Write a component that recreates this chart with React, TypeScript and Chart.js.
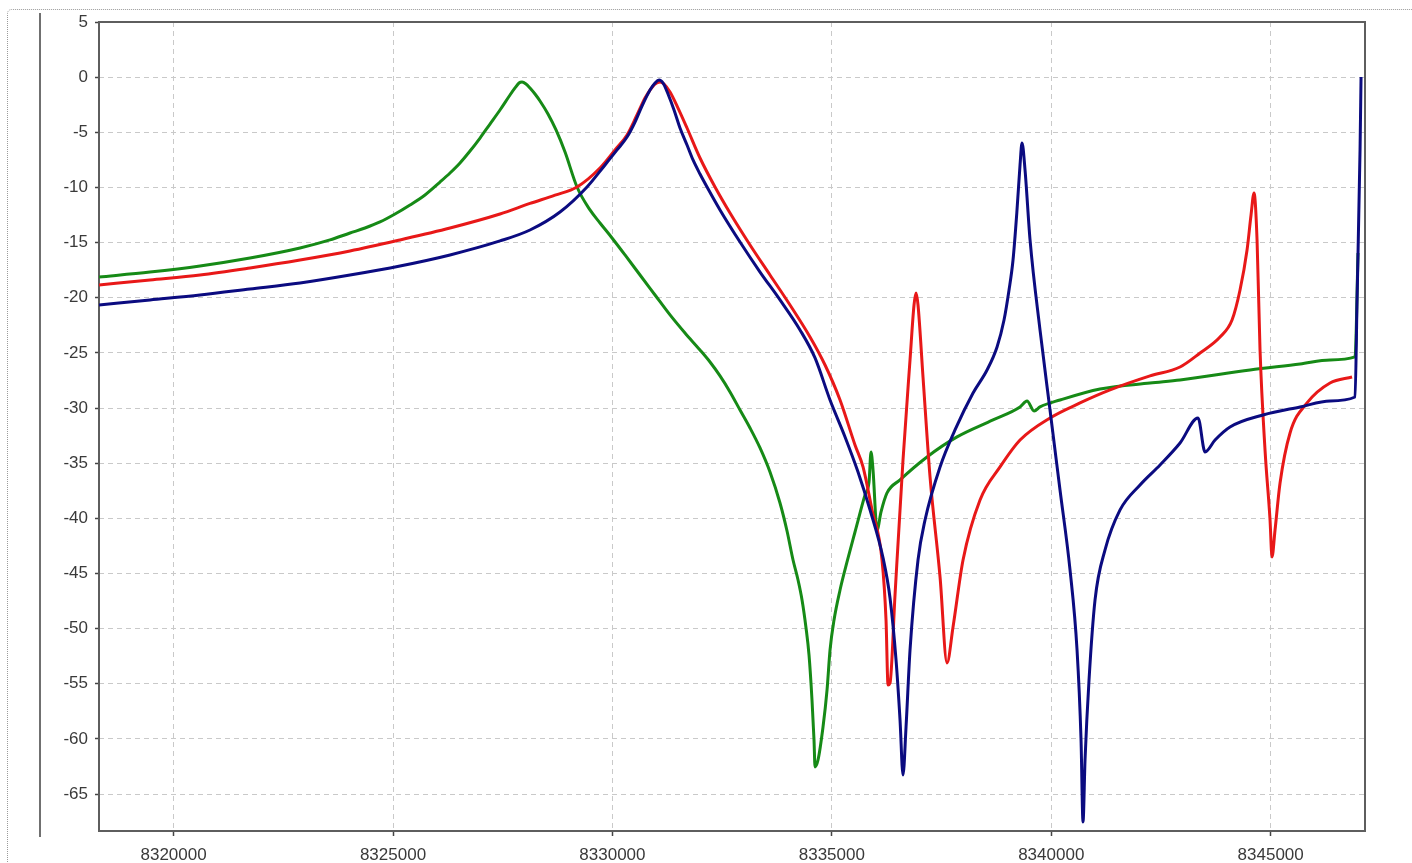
import React, { useEffect, useRef } from "react";
import { Chart, registerables } from "chart.js";

Chart.register(...registerables);

// Axis settings / tick labels
const X_MIN = 8318300;
const X_MAX = 8347150;
const Y_MIN = -68.35;
const Y_MAX = 5;
const xTicks = [8320000, 8325000, 8330000, 8335000, 8340000, 8345000];
const yTicks = [5, 0, -5, -10, -15, -20, -25, -30, -35, -40, -45, -50, -55, -60, -65];

// Navy series
const navyFreq = [
  8318300, 8319462, 8320602, 8321741, 8322881, 8324020, 8325159, 8326299, 8327438, 8328122,
  8328806, 8329421, 8329831, 8330105, 8330333, 8330515, 8330674, 8330857, 8330971, 8331062,
  8331153, 8331267, 8331404, 8331540, 8331700, 8331837, 8331996, 8332156, 8332452, 8332908,
  8333364, 8333819, 8334275, 8334617, 8334959, 8335301, 8335597, 8335870, 8336167, 8336326,
  8336463, 8336554, 8336622, 8336691, 8336782, 8336964, 8337124, 8337466, 8337807, 8338218,
  8338537, 8338765, 8338924, 8339038, 8339129, 8339220, 8339289, 8339334, 8339403, 8339517,
  8339744, 8339972, 8340200, 8340428, 8340588, 8340679, 8340724, 8340770, 8340861, 8340998,
  8341226, 8341568, 8342023, 8342479, 8342935, 8343345, 8343505, 8343733, 8344074, 8344826,
  8345670, 8346353, 8346923, 8346969, 8347037, 8347060,
];
const navyDb = [
  -20.66, -20.2, -19.75, -19.21, -18.66, -17.94, -17.12, -16.12, -14.85, -13.86,
  -12.23, -9.96, -7.96, -6.6, -5.43, -4.07, -2.62, -1.17, -0.53, -0.26,
  -0.53, -1.53, -2.98, -4.61, -6.15, -7.51, -8.78, -9.96, -12.04, -14.95,
  -17.67, -20.2, -22.92, -25.46, -29.27, -32.62, -35.8, -39.24, -43.59, -47.22,
  -52.84, -58.28, -63.27, -58.92, -51.94, -43.78, -40.15, -35.34, -31.99, -28.64,
  -26.55, -24.46, -22.02, -19.3, -16.58, -12.04, -7.96, -5.97, -8.42, -14.76,
  -22.92, -30.18, -37.43, -44.68, -51.94, -60.1, -67.53, -61.91, -54.66, -47.4,
  -42.87, -39.24, -36.98, -35.16, -33.17, -30.9, -33.98, -32.9, -31.72, -30.63,
  -29.9, -29.36, -29.0, -20.2, -6.6, 0.01,
];

// Red series
const redFreq = [
  8318300, 8319462, 8320602, 8321741, 8322881, 8324020, 8325159, 8326299, 8327438, 8328122,
  8328692, 8329193, 8329717, 8330059, 8330333, 8330560, 8330743, 8330857, 8330971, 8331085,
  8331176, 8331313, 8331495, 8331700, 8331996, 8332338, 8332680, 8333136, 8333591, 8334047,
  8334503, 8334845, 8335187, 8335528, 8335711, 8335916, 8336144, 8336235, 8336281, 8336326,
  8336440, 8336622, 8336782, 8336873, 8336919, 8336964, 8337078, 8337238, 8337466, 8337625,
  8337762, 8337990, 8338377, 8338833, 8339289, 8339972, 8340656, 8341340, 8342251, 8342935,
  8343391, 8343846, 8344120, 8344302, 8344462, 8344553, 8344621, 8344690, 8344758, 8344872,
  8344986, 8345031, 8345100, 8345214, 8345442, 8345829, 8346353, 8346855,
];
const redDb = [
  -18.84, -18.39, -17.94, -17.3, -16.58, -15.76, -14.76, -13.68, -12.41, -11.45,
  -10.7, -9.96, -8.24, -6.6, -5.24, -3.43, -1.89, -1.17, -0.62, -0.44,
  -0.62, -1.35, -2.8, -4.61, -7.33, -9.96, -12.32, -15.22, -17.94, -20.66,
  -23.56, -26.1, -29.27, -33.35, -35.34, -39.24, -43.78, -49.22, -55.11, -54.93,
  -46.95, -34.71, -25.64, -20.66, -19.57, -20.66, -27.19, -36.25, -45.32, -53.11,
  -49.85, -43.78, -38.34, -35.34, -32.9, -30.9, -29.54, -28.36, -27.09, -26.28,
  -25.01, -23.56, -22.02, -19.3, -15.67, -12.5, -10.5, -14.76, -24.74, -33.81,
  -40.15, -43.5, -41.06, -36.8, -32.26, -29.54, -27.73, -27.19,
];

// Green series
const greenFreq = [
  8318300, 8319462, 8320602, 8321741, 8322881, 8323564, 8324020, 8324362, 8324704, 8325046,
  8325387, 8325729, 8326071, 8326299, 8326527, 8326755, 8326983, 8327210, 8327438, 8327666,
  8327780, 8327871, 8327940, 8328031, 8328122, 8328236, 8328350, 8328532, 8328715, 8328920,
  8329193, 8329489, 8329717, 8329991, 8330287, 8330629, 8330971, 8331313, 8331654, 8331996,
  8332224, 8332452, 8332680, 8332908, 8333136, 8333364, 8333591, 8333819, 8333979, 8334116,
  8334230, 8334321, 8334412, 8334480, 8334548, 8334594, 8334617, 8334685, 8334799, 8334891,
  8334959, 8335050, 8335187, 8335346, 8335528, 8335756, 8335848, 8335893, 8335939, 8336030,
  8336121, 8336258, 8336554, 8337169, 8337853, 8338673, 8339289, 8339448, 8339608, 8339744,
  8340200, 8341112, 8342251, 8342935, 8344530, 8345670, 8346353, 8346923, 8346991,
];
const greenDb = [
  -18.12, -17.67, -17.12, -16.4, -15.49, -14.76, -14.13, -13.68, -13.13, -12.41,
  -11.59, -10.68, -9.51, -8.69, -7.78, -6.7, -5.52, -4.25, -2.98, -1.62,
  -0.98, -0.53, -0.44, -0.62, -0.98, -1.53, -2.16, -3.34, -4.79, -6.79,
  -9.96, -12.04, -13.22, -14.58, -16.12, -17.94, -19.75, -21.56, -23.2, -24.74,
  -25.83, -27.09, -28.54, -30.18, -31.81, -33.62, -35.8, -38.61, -41.15, -43.78,
  -45.59, -47.4, -49.94, -52.39, -56.47, -60.1, -62.54, -61.91, -58.92, -55.56,
  -51.94, -49.22, -46.5, -43.96, -41.24, -37.88, -36.7, -33.98, -35.62, -41.06,
  -39.42, -37.7, -36.52, -34.44, -32.62, -31.08, -29.9, -29.36, -30.27, -29.9,
  -29.27, -28.27, -27.73, -27.46, -26.55, -26.01, -25.64, -25.37, -15.94,
];

const NAVY = "#0b0b80";
const RED = "#e81818";
const GREEN = "#168a16";

const tickFont = { family: '"Liberation Sans", Arial, sans-serif', size: 17 };

const framePlugin = {
  id: "frameDecor",
  beforeDraw(chart: any) {
    const ctx = chart.ctx;
    ctx.save();
    ctx.strokeStyle = "#9a9a9a";
    ctx.lineWidth = 1;
    ctx.setLineDash([1, 1]);
    ctx.beginPath();
    ctx.moveTo(7.5, 870);
    ctx.lineTo(7.5, 14);
    ctx.quadraticCurveTo(7.5, 9.5, 12, 9.5);
    ctx.lineTo(1420, 9.5);
    ctx.stroke();
    ctx.setLineDash([]);
    ctx.strokeStyle = "#707070";
    ctx.lineWidth = 2;
    ctx.beginPath();
    ctx.moveTo(40, 13);
    ctx.lineTo(40, 837);
    ctx.stroke();
    ctx.restore();
  },
  beforeDatasetsDraw(chart: any) {
    const { ctx, chartArea } = chart;
    ctx.save();
    ctx.strokeStyle = "#5e5e5e";
    ctx.lineWidth = 2;
    ctx.setLineDash([]);
    ctx.strokeRect(chartArea.left, chartArea.top, chartArea.right - chartArea.left, chartArea.bottom - chartArea.top);
    ctx.restore();
  },
};

function pts(xs: number[], ys: number[]) {
  return xs.map((x, i) => ({ x, y: ys[i] }));
}

export default function App() {
  const ref = useRef<HTMLCanvasElement>(null);

  useEffect(() => {
    const canvas = ref.current;
    if (!canvas) return;
    const lineDs = (data: any, color: string) => ({
      data,
      borderColor: color,
      backgroundColor: color,
      borderWidth: 3,
      pointRadius: 0,
      cubicInterpolationMode: "monotone" as const,
      fill: false,
      borderJoinStyle: "round" as const,
    });
    const chart = new Chart(canvas, {
      type: "line",
      data: {
        datasets: [
          lineDs(pts(navyFreq, navyDb), NAVY),
          lineDs(pts(redFreq, redDb), RED),
          lineDs(pts(greenFreq, greenDb), GREEN),
        ],
      },
      options: {
        responsive: false,
        animation: false,
        events: [],
        layout: { padding: { top: 22, right: 47, left: 0, bottom: 0 } },
        plugins: { legend: { display: false }, tooltip: { enabled: false }, title: { display: false } },
        scales: {
          x: {
            type: "linear",
            min: X_MIN,
            max: X_MAX,
            afterBuildTicks: (s: any) => {
              s.ticks = xTicks.map((v) => ({ value: v }));
            },
            afterFit: (s: any) => {
              s.height = 32;
            },
            ticks: {
              callback: (v: any) => String(v),
              font: tickFont,
              color: "#3a3a3a",
              padding: 9,
              maxRotation: 0,
              autoSkip: false,
            },
            grid: {
              color: "#c9c9c9",
              lineWidth: 1,
              tickColor: "#444",
              tickLength: 5,
              tickWidth: 1.5,
              tickBorderDash: [],
            },
            border: { display: false, dash: [5, 4] },
          },
          y: {
            type: "linear",
            min: Y_MIN,
            max: Y_MAX,
            afterBuildTicks: (s: any) => {
              s.ticks = yTicks.map((v) => ({ value: v }));
            },
            afterFit: (s: any) => {
              s.width = 99;
            },
            ticks: {
              callback: (v: any) => String(v),
              font: tickFont,
              color: "#3a3a3a",
              padding: 7,
              autoSkip: false,
            },
            grid: {
              color: "#c9c9c9",
              lineWidth: 1,
              tickColor: "#444",
              tickLength: 4,
              tickWidth: 1.5,
              tickBorderDash: [],
            },
            border: { display: false, dash: [5, 4] },
          },
        },
      },
      plugins: [framePlugin],
    });
    return () => chart.destroy();
  }, []);

  return (
    <div style={{ position: "absolute", left: 0, top: 0, width: 1412, height: 863, background: "#fff" }}>
      <canvas ref={ref} width={1412} height={863} style={{ display: "block" }} />
    </div>
  );
}
